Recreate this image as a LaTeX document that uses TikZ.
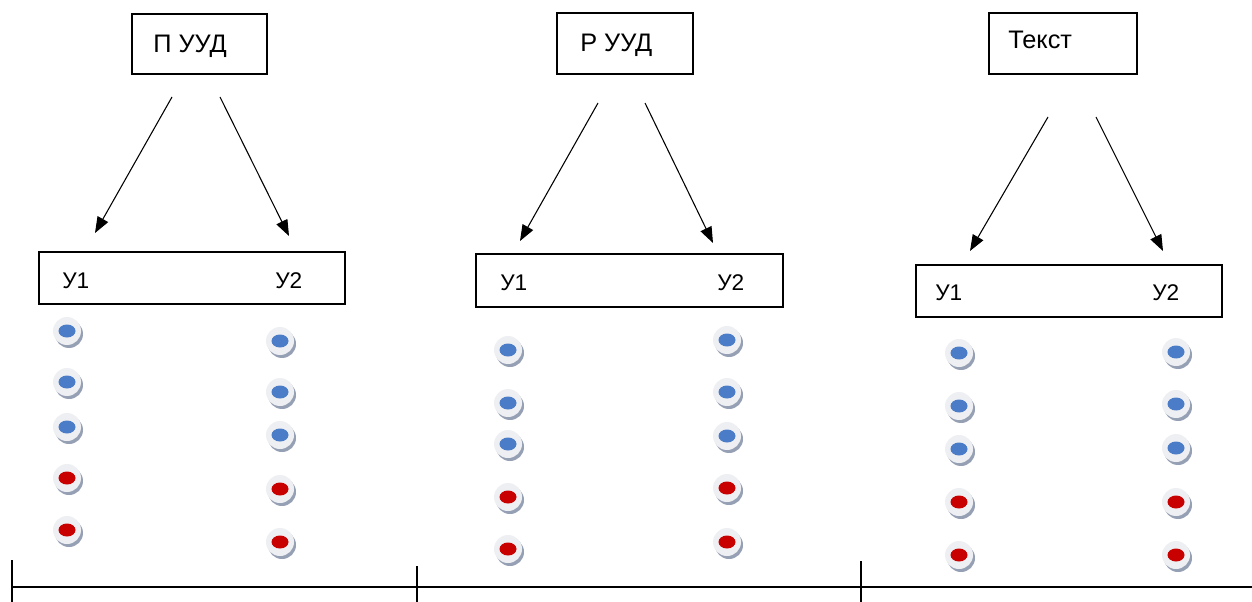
\documentclass[tikz,border=0pt]{standalone}
\usepackage{fontspec}
\setmainfont{Liberation Sans}
\usetikzlibrary{arrows.meta}
\definecolor{btnblue}{RGB}{74,124,200}
\definecolor{btnred}{RGB}{200,0,0}
\definecolor{btnface}{RGB}{238,239,242}
\definecolor{btnshade}{RGB}{150,160,180}
\tikzset{
  pics/btn/.style={code={
    \fill[btnshade] (2,-3) circle [radius=14];
    \fill[btnface] (0,0) circle [radius=14];
    \fill[#1] (0,0) ellipse [x radius=8.5, y radius=6.5];
  }}
}

\begin{document}
\begin{tikzpicture}[x=0.75pt,y=0.75pt,yscale=-1,
  box/.style={draw, line width=1pt, inner sep=0pt},
  lbl/.style={anchor=base west, inner sep=0pt, font=\fontsize{17}{21}\selectfont},
  head/.style={lbl, font=\fontsize{19}{23}\selectfont},
  arr/.style={-{Triangle[length=12pt,width=9pt]}, line width=0.8pt},
  rule/.style={line width=1.2pt}]
\useasboundingbox (0,0) rectangle (1252,602);

% Box Node
\node[box, minimum width=135*0.75pt, minimum height=60*0.75pt] (puud) at (199.5,44) {};
% Box Node
\node[box, minimum width=136*0.75pt, minimum height=61*0.75pt] (ruud) at (625,43.5) {};
% Box Node
\node[box, minimum width=148*0.75pt, minimum height=61*0.75pt] (tekst) at (1063,43.5) {};
% Box Node
\node[box, minimum width=306*0.75pt, minimum height=52*0.75pt] (ya) at (192,278) {};
% Box Node
\node[box, minimum width=307*0.75pt, minimum height=53*0.75pt] (yb) at (629.5,280.5) {};
% Box Node
\node[box, minimum width=306*0.75pt, minimum height=52*0.75pt] (yc) at (1069,291) {};

% Text Node
\node[head] (puudT) at (153,53) {П УУД};
% Text Node
\node[head] (ruudT) at (580,52) {Р УУД};
% Text Node
\node[head] (tekstT) at (1008,49) {Текст};
% Text Node
\node[lbl] (ya1) at (62,288) {У1};
% Text Node
\node[lbl] (ya2) at (275,288) {У2};
% Text Node
\node[lbl] (yb1) at (500,290) {У1};
% Text Node
\node[lbl] (yb2) at (717,290) {У2};
% Text Node
\node[lbl] (yc1) at (935,300) {У1};
% Text Node
\node[lbl] (yc2) at (1152,300) {У2};

% Arrow ends
\coordinate (puudL) at (172,97);
\coordinate (puudR) at (220,97);
\coordinate (ruudL) at (598,103);
\coordinate (ruudR) at (645,103);
\coordinate (tekstL) at (1048,117);
\coordinate (tekstR) at (1096,117);
\coordinate (yaL) at (95,233);
\coordinate (yaR) at (289,236);
\coordinate (ybL) at (520,241);
\coordinate (ybR) at (713,243);
\coordinate (ycL) at (970,251);
\coordinate (ycR) at (1163,251);

% Connection
\draw[arr] (puudL) -- (yaL);
% Connection
\draw[arr] (puudR) -- (yaR);
% Connection
\draw[arr] (ruudL) -- (ybL);
% Connection
\draw[arr] (ruudR) -- (ybR);
% Connection
\draw[arr] (tekstL) -- (ycL);
% Connection
\draw[arr] (tekstR) -- (ycR);

% Buttons
\pic at (67,331) {btn=btnblue};
\pic at (67,382) {btn=btnblue};
\pic at (67,427) {btn=btnblue};
\pic at (67,478) {btn=btnred};
\pic at (67,530) {btn=btnred};
\pic at (280,341) {btn=btnblue};
\pic at (280,392) {btn=btnblue};
\pic at (280,435) {btn=btnblue};
\pic at (280,489) {btn=btnred};
\pic at (280,542) {btn=btnred};
\pic at (508,350) {btn=btnblue};
\pic at (508,403) {btn=btnblue};
\pic at (508,444) {btn=btnblue};
\pic at (508,497) {btn=btnred};
\pic at (508,549) {btn=btnred};
\pic at (727,340) {btn=btnblue};
\pic at (727,392) {btn=btnblue};
\pic at (727,436) {btn=btnblue};
\pic at (727,488) {btn=btnred};
\pic at (727,542) {btn=btnred};
\pic at (959,353) {btn=btnblue};
\pic at (959,406) {btn=btnblue};
\pic at (959,449) {btn=btnblue};
\pic at (959,502) {btn=btnred};
\pic at (959,555) {btn=btnred};
\pic at (1176,352) {btn=btnblue};
\pic at (1176,404) {btn=btnblue};
\pic at (1176,448) {btn=btnblue};
\pic at (1176,502) {btn=btnred};
\pic at (1176,555) {btn=btnred};

% Axis
\draw[rule] (11,587) -- (1252,587);
\draw[rule] (12,560) -- (12,602);
\draw[rule] (417,566) -- (417,602);
\draw[rule] (861,561) -- (861,602);

\end{tikzpicture}
\end{document}
